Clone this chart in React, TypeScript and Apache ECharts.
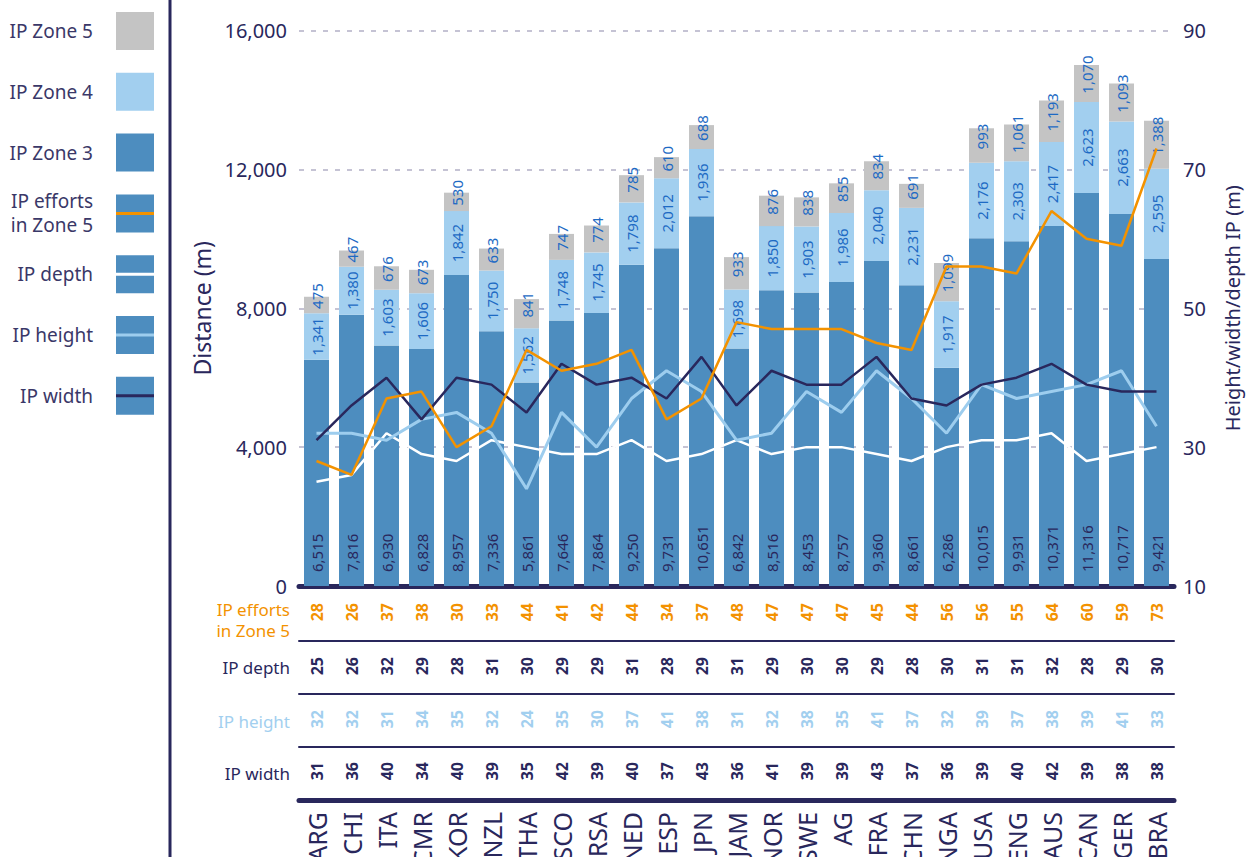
import React, { useEffect, useRef } from "react";
import * as echarts from "echarts";

const countries = ["ARG", "CHI", "ITA", "CMR", "KOR", "NZL", "THA", "SCO", "RSA", "NED", "ESP", "JPN", "JAM", "NOR", "SWE", "AG", "FRA", "CHN", "NGA", "USA", "ENG", "AUS", "CAN", "GER", "BRA"];
const zone3 = [6515, 7816, 6930, 6828, 8957, 7336, 5861, 7646, 7864, 9250, 9731, 10651, 6842, 8516, 8453, 8757, 9360, 8661, 6286, 10015, 9931, 10371, 11316, 10717, 9421];
const zone4 = [1341, 1380, 1603, 1606, 1842, 1750, 1562, 1748, 1745, 1798, 2012, 1936, 1698, 1850, 1903, 1986, 2040, 2231, 1917, 2176, 2303, 2417, 2623, 2663, 2595];
const zone5 = [475, 467, 676, 673, 530, 633, 841, 747, 774, 785, 610, 688, 933, 876, 838, 855, 834, 691, 1099, 993, 1061, 1193, 1070, 1093, 1388];
const effortsZone5 = [28, 26, 37, 38, 30, 33, 44, 41, 42, 44, 34, 37, 48, 47, 47, 47, 45, 44, 56, 56, 55, 64, 60, 59, 73];
const ipDepth = [25, 26, 32, 29, 28, 31, 30, 29, 29, 31, 28, 29, 31, 29, 30, 30, 29, 28, 30, 31, 31, 32, 28, 29, 30];
const ipHeight = [32, 32, 31, 34, 35, 32, 24, 35, 30, 37, 41, 38, 31, 32, 38, 35, 41, 37, 32, 39, 37, 38, 39, 41, 33];
const ipWidth = [31, 36, 40, 34, 40, 39, 35, 42, 39, 40, 37, 43, 36, 41, 39, 39, 43, 37, 36, 39, 40, 42, 39, 38, 38];

const NAVY = "#29275c";
const C3 = "#4d8dbf";
const C4 = "#a2cfef";
const C5 = "#c4c4c4";
const ORANGE = "#f39200";
const LBLUE = "#9dcdee";
const LABEL_BLUE = "#1d6ac4";
const LEGEND_TXT = "#3a3868";
const FONT = '"Noto Sans", "Open Sans", sans-serif';

const fmt = (v: number) => v.toLocaleString("en-US");

export default function App() {
  const ref = useRef<HTMLDivElement>(null);
  useEffect(() => {
    if (!ref.current) return;
    const chart = echarts.init(ref.current, null, { renderer: "svg" });

    const legendItems = [
      { label: ["IP Zone 5"], fill: C5, line: null as string | null },
      { label: ["IP Zone 4"], fill: C4, line: null },
      { label: ["IP Zone 3"], fill: C3, line: null },
      { label: ["IP efforts", "in Zone 5"], fill: C3, line: ORANGE },
      { label: ["IP depth"], fill: C3, line: "#ffffff" },
      { label: ["IP height"], fill: C3, line: LBLUE },
      { label: ["IP width"], fill: C3, line: NAVY },
    ];
    const graphic: any[] = [
      { type: "line", shape: { x1: 170, y1: 0, x2: 170, y2: 857 }, style: { stroke: NAVY, lineWidth: 3 } },
    ];
    legendItems.forEach((it, i) => {
      const top = 12 + i * 60.8;
      graphic.push({ type: "rect", shape: { x: 116, y: top, width: 38, height: 38 }, style: { fill: it.fill } });
      if (it.line) {
        graphic.push({ type: "line", shape: { x1: 116, y1: top + 19, x2: 154, y2: top + 19 }, style: { stroke: it.line, lineWidth: 3 } });
      }
      const n = it.label.length;
      it.label.forEach((t, k) => {
        graphic.push({
          type: "text", x: 93, y: top + 19 + (k - (n - 1) / 2) * 24,
          style: { text: t, fill: LEGEND_TXT, fontSize: 19, fontFamily: FONT, align: "right", verticalAlign: "middle" },
        });
      });
    });
    const rowLabels = [
      { text: "IP efforts", y: 609, color: ORANGE },
      { text: "in Zone 5", y: 630, color: ORANGE },
      { text: "IP depth", y: 667, color: NAVY },
      { text: "IP height", y: 721, color: C4 },
      { text: "IP width", y: 773, color: NAVY },
    ];
    rowLabels.forEach((r) => {
      graphic.push({
        type: "text", x: 290, y: r.y,
        style: { text: r.text, fill: r.color, fontSize: 17, fontFamily: FONT, align: "right", verticalAlign: "middle" },
      });
    });

    const tableAxis = (values: number[], offset: number, color: string, showLine: boolean, margin: number) => ({
      type: "category",
      data: countries,
      position: "bottom",
      offset,
      axisLine: { show: showLine, lineStyle: { color: NAVY, width: 2 } },
      axisTick: { show: false },
      axisLabel: {
        interval: 0, rotate: 90, margin, color, fontSize: 16, fontWeight: "bold", fontFamily: FONT,
        formatter: (_v: string, idx: number) => String(values[idx]),
      },
    });

    const option: any = {
      animation: false,
      textStyle: { fontFamily: FONT },
      grid: { left: 299, right: 78, top: 30.5, bottom: 271, containLabel: false, outerBoundsMode: "none" },
      graphic,
      xAxis: [
        {
          type: "category", data: countries, position: "bottom",
          axisLine: { lineStyle: { color: NAVY, width: 5 } },
          axisTick: { show: false }, axisLabel: { show: false },
        },
        tableAxis(effortsZone5, 0, ORANGE, false, 17),
        tableAxis(ipDepth, 55, NAVY, true, 16),
        tableAxis(ipHeight, 108, C4, true, 16),
        tableAxis(ipWidth, 161, NAVY, true, 15),
        {
          type: "category", data: countries, position: "bottom", offset: 214,
          axisLine: { lineStyle: { color: NAVY, width: 5 } },
          axisTick: { show: false },
          axisLabel: { interval: 0, rotate: 90, margin: 12, color: NAVY, fontSize: 25, fontFamily: FONT },
        },
      ],
      yAxis: [
        {
          type: "value", min: 0, max: 16000, interval: 4000,
          axisLine: { show: false }, axisTick: { show: false },
          axisLabel: { margin: 12, color: NAVY, fontSize: 20, fontFamily: FONT, formatter: (v: number) => fmt(v) },
          splitLine: { lineStyle: { color: "#b3b0c6", type: [5, 7], width: 1.5 } },
          name: "Distance (m)", nameLocation: "middle", nameGap: 81, nameRotate: 90,
          nameTextStyle: { color: NAVY, fontSize: 23, fontFamily: FONT },
        },
        {
          type: "value", min: 10, max: 90, interval: 20, position: "right",
          axisLine: { show: false }, axisTick: { show: false },
          axisLabel: { margin: 9, color: NAVY, fontSize: 20, fontFamily: FONT },
          splitLine: { show: false },
          name: "Height/width/depth IP (m)", nameLocation: "middle", nameGap: 48, nameRotate: 90,
          nameTextStyle: { color: NAVY, fontSize: 20, fontFamily: FONT },
        },
      ],
      series: [
        {
          name: "IP Zone 3", type: "bar", stack: "d", data: zone3, barWidth: 25, itemStyle: { color: C3 },
          label: {
            show: true, position: "insideBottom", rotate: 90, align: "left", verticalAlign: "middle", distance: 14,
            color: NAVY, fontSize: 15, fontFamily: FONT, formatter: (p: any) => fmt(p.value),
          },
        },
        {
          name: "IP Zone 4", type: "bar", stack: "d", data: zone4, barWidth: 25, itemStyle: { color: C4 },
          label: {
            show: true, position: "inside", rotate: 90, color: LABEL_BLUE, fontSize: 15, fontFamily: FONT,
            formatter: (p: any) => fmt(p.value),
          },
        },
        {
          name: "IP Zone 5", type: "bar", stack: "d", data: zone5, barWidth: 25, itemStyle: { color: C5 },
          label: {
            show: true, position: "inside", rotate: 90, offset: [9, 0], color: LABEL_BLUE, fontSize: 15, fontFamily: FONT,
            formatter: (p: any) => fmt(p.value),
          },
        },
        { name: "IP depth", type: "line", yAxisIndex: 1, data: ipDepth, symbol: "none", lineStyle: { color: "#ffffff", width: 2.5 } },
        { name: "IP height", type: "line", yAxisIndex: 1, data: ipHeight, symbol: "none", lineStyle: { color: LBLUE, width: 3 } },
        { name: "IP width", type: "line", yAxisIndex: 1, data: ipWidth, symbol: "none", lineStyle: { color: NAVY, width: 2.5 } },
        { name: "IP efforts in Zone 5", type: "line", yAxisIndex: 1, data: effortsZone5, symbol: "none", lineStyle: { color: ORANGE, width: 2.5 } },
      ],
    };
    chart.setOption(option);
    return () => chart.dispose();
  }, []);
  return <div ref={ref} style={{ position: "fixed", left: 0, top: 0, width: 1252, height: 857, background: "#fff" }} />;
}
